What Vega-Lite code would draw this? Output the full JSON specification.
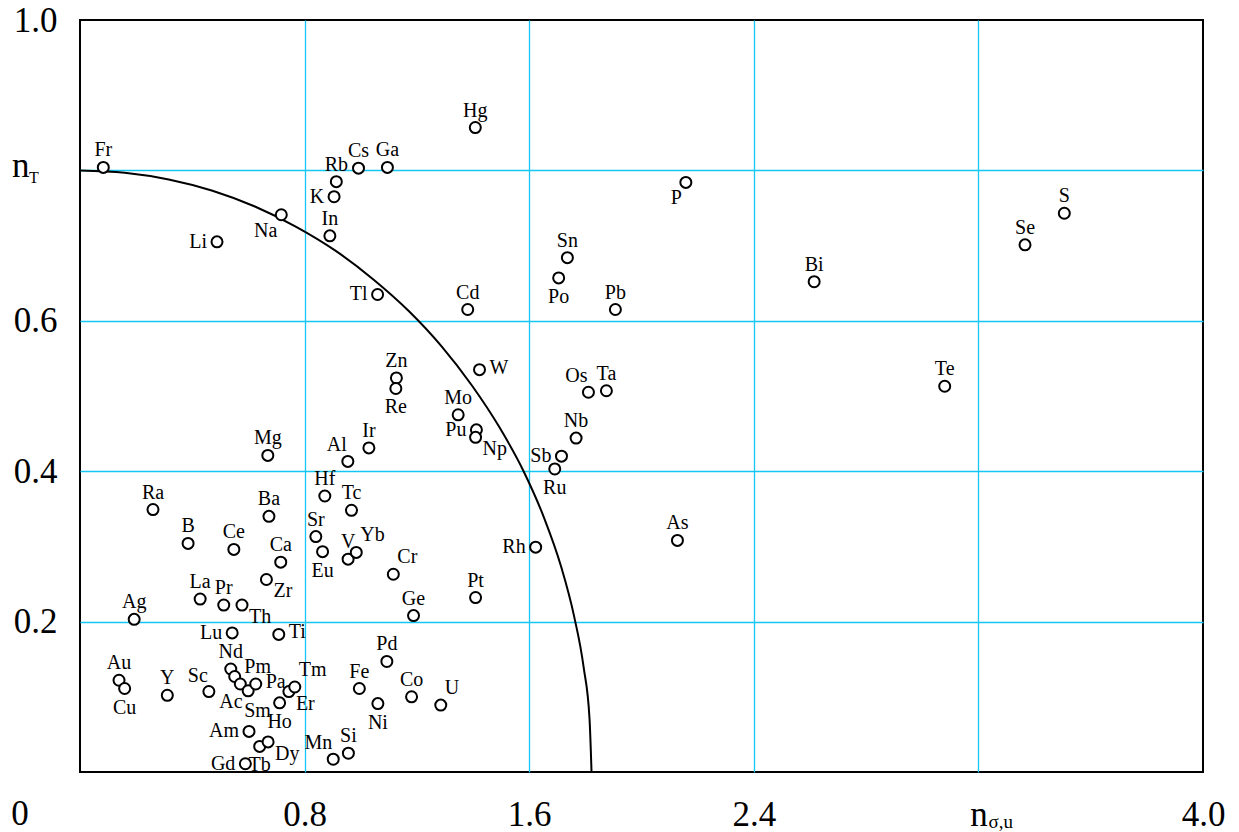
{
  "$schema": "https://vega.github.io/schema/vega-lite/v6.json",
  "width": 1123,
  "height": 752,
  "autosize": "none",
  "padding": {"left": 80, "top": 20, "right": 36, "bottom": 60},
  "background": "white",
  "config": {
    "view": {"stroke": "black", "strokeWidth": 2},
    "text": {"font": "Liberation Serif", "color": "black"},
    "axis": {
      "domain": false,
      "ticks": false,
      "title": null,
      "grid": true,
      "gridColor": "#14c6f4",
      "gridWidth": 1.3,
      "labelFont": "Liberation Serif",
      "labelFontSize": 35,
      "labelColor": "black",
      "labelOverlap": false,
      "labelFlush": false
    }
  },
  "datasets": {
    "elements": [
      {"el": "Fr", "nsu": 0.083, "nt": 0.804, "pos": "t"},
      {"el": "Li", "nsu": 0.488, "nt": 0.705, "pos": "l"},
      {"el": "Na", "nsu": 0.717, "nt": 0.741, "pos": "bl"},
      {"el": "K", "nsu": 0.905, "nt": 0.765, "pos": "l"},
      {"el": "Rb", "nsu": 0.913, "nt": 0.785, "pos": "t"},
      {"el": "Cs", "nsu": 0.992, "nt": 0.803, "pos": "t"},
      {"el": "Ga", "nsu": 1.095, "nt": 0.804, "pos": "t"},
      {"el": "In", "nsu": 0.890, "nt": 0.713, "pos": "t"},
      {"el": "Tl", "nsu": 1.060, "nt": 0.635, "pos": "l"},
      {"el": "Hg", "nsu": 1.408, "nt": 0.857, "pos": "t"},
      {"el": "Cd", "nsu": 1.381, "nt": 0.615, "pos": "t"},
      {"el": "Sn", "nsu": 1.736, "nt": 0.684, "pos": "t"},
      {"el": "Po", "nsu": 1.705, "nt": 0.657, "pos": "b"},
      {"el": "Pb", "nsu": 1.907, "nt": 0.615, "pos": "t"},
      {"el": "P", "nsu": 2.158, "nt": 0.784, "pos": "bl"},
      {"el": "Bi", "nsu": 2.615, "nt": 0.652, "pos": "t"},
      {"el": "Se", "nsu": 3.366, "nt": 0.701, "pos": "t"},
      {"el": "S", "nsu": 3.506, "nt": 0.743, "pos": "t"},
      {"el": "Te", "nsu": 3.080, "nt": 0.513, "pos": "t"},
      {"el": "Os", "nsu": 1.811, "nt": 0.505, "pos": "tl"},
      {"el": "Ta", "nsu": 1.875, "nt": 0.507, "pos": "t"},
      {"el": "Nb", "nsu": 1.767, "nt": 0.444, "pos": "t"},
      {"el": "Zn", "nsu": 1.127, "nt": 0.524, "pos": "t"},
      {"el": "Re", "nsu": 1.125, "nt": 0.510, "pos": "b"},
      {"el": "W", "nsu": 1.423, "nt": 0.535, "pos": "r"},
      {"el": "Mo", "nsu": 1.347, "nt": 0.475, "pos": "t"},
      {"el": "Pu", "nsu": 1.412, "nt": 0.455, "pos": "l"},
      {"el": "Np", "nsu": 1.409, "nt": 0.445, "pos": "br"},
      {"el": "Ir", "nsu": 1.029, "nt": 0.431, "pos": "t"},
      {"el": "Al", "nsu": 0.954, "nt": 0.413, "pos": "tl"},
      {"el": "Sb", "nsu": 1.715, "nt": 0.420, "pos": "l"},
      {"el": "Ru", "nsu": 1.691, "nt": 0.403, "pos": "b"},
      {"el": "Hf", "nsu": 0.872, "nt": 0.367, "pos": "t"},
      {"el": "Tc", "nsu": 0.967, "nt": 0.348, "pos": "t"},
      {"el": "Sr", "nsu": 0.840, "nt": 0.313, "pos": "t"},
      {"el": "Eu", "nsu": 0.864, "nt": 0.293, "pos": "b"},
      {"el": "V", "nsu": 0.955, "nt": 0.283, "pos": "t"},
      {"el": "Yb", "nsu": 0.984, "nt": 0.292, "pos": "tr"},
      {"el": "Cr", "nsu": 1.116, "nt": 0.263, "pos": "tr"},
      {"el": "Ge", "nsu": 1.188, "nt": 0.208, "pos": "t"},
      {"el": "Pt", "nsu": 1.409, "nt": 0.232, "pos": "t"},
      {"el": "Rh", "nsu": 1.623, "nt": 0.299, "pos": "l"},
      {"el": "As", "nsu": 2.128, "nt": 0.308, "pos": "t"},
      {"el": "Mg", "nsu": 0.669, "nt": 0.421, "pos": "t"},
      {"el": "Ra", "nsu": 0.260, "nt": 0.349, "pos": "t"},
      {"el": "B", "nsu": 0.385, "nt": 0.304, "pos": "t"},
      {"el": "Ce", "nsu": 0.548, "nt": 0.296, "pos": "t"},
      {"el": "Ba", "nsu": 0.673, "nt": 0.340, "pos": "t"},
      {"el": "Ca", "nsu": 0.715, "nt": 0.279, "pos": "t"},
      {"el": "Zr", "nsu": 0.664, "nt": 0.256, "pos": "br"},
      {"el": "La", "nsu": 0.428, "nt": 0.230, "pos": "t"},
      {"el": "Pr", "nsu": 0.512, "nt": 0.222, "pos": "t"},
      {"el": "Th", "nsu": 0.577, "nt": 0.222, "pos": "br"},
      {"el": "Ag", "nsu": 0.193, "nt": 0.203, "pos": "t"},
      {"el": "Lu", "nsu": 0.542, "nt": 0.185, "pos": "l"},
      {"el": "Ti", "nsu": 0.708, "nt": 0.183, "pos": "r"},
      {"el": "Au", "nsu": 0.139, "nt": 0.122, "pos": "t"},
      {"el": "Cu", "nsu": 0.159, "nt": 0.111, "pos": "b"},
      {"el": "Y", "nsu": 0.311, "nt": 0.102, "pos": "t"},
      {"el": "Sc", "nsu": 0.459, "nt": 0.107, "pos": "tl"},
      {"el": "Nd", "nsu": 0.537, "nt": 0.137, "pos": "t"},
      {"el": "Ac", "nsu": 0.551, "nt": 0.127, "pos": "bw"},
      {"el": "Pm", "nsu": 0.571, "nt": 0.117, "pos": "tr"},
      {"el": "Sm", "nsu": 0.599, "nt": 0.108, "pos": "be"},
      {"el": "Pa", "nsu": 0.626, "nt": 0.117, "pos": "r"},
      {"el": "Ho", "nsu": 0.711, "nt": 0.092, "pos": "b"},
      {"el": "Er", "nsu": 0.744, "nt": 0.107, "pos": "br"},
      {"el": "Tm", "nsu": 0.765, "nt": 0.113, "pos": "tr"},
      {"el": "Am", "nsu": 0.602, "nt": 0.054, "pos": "l"},
      {"el": "Tb", "nsu": 0.640, "nt": 0.034, "pos": "b"},
      {"el": "Dy", "nsu": 0.670, "nt": 0.040, "pos": "br"},
      {"el": "Gd", "nsu": 0.589, "nt": 0.011, "pos": "l"},
      {"el": "Pd", "nsu": 1.093, "nt": 0.147, "pos": "t"},
      {"el": "Fe", "nsu": 0.995, "nt": 0.111, "pos": "t"},
      {"el": "Ni", "nsu": 1.061, "nt": 0.091, "pos": "b"},
      {"el": "Co", "nsu": 1.181, "nt": 0.100, "pos": "t"},
      {"el": "U", "nsu": 1.285, "nt": 0.089, "pos": "tr"},
      {"el": "Mn", "nsu": 0.902, "nt": 0.017, "pos": "tl"},
      {"el": "Si", "nsu": 0.956, "nt": 0.025, "pos": "t"}
    ],
    "boundary": [
      {"nsu": 0.000, "nt": 0.800},
      {"nsu": 0.159, "nt": 0.797},
      {"nsu": 0.316, "nt": 0.788},
      {"nsu": 0.472, "nt": 0.773},
      {"nsu": 0.623, "nt": 0.752},
      {"nsu": 0.770, "nt": 0.725},
      {"nsu": 0.911, "nt": 0.693},
      {"nsu": 1.045, "nt": 0.655},
      {"nsu": 1.171, "nt": 0.613},
      {"nsu": 1.288, "nt": 0.566},
      {"nsu": 1.396, "nt": 0.514},
      {"nsu": 1.493, "nt": 0.459},
      {"nsu": 1.580, "nt": 0.400},
      {"nsu": 1.653, "nt": 0.338},
      {"nsu": 1.713, "nt": 0.274},
      {"nsu": 1.760, "nt": 0.207},
      {"nsu": 1.794, "nt": 0.139},
      {"nsu": 1.815, "nt": 0.070},
      {"nsu": 1.822, "nt": 0.000}
    ],
    "axisNames": [
      {"txt": "n", "nsu": 0, "nt": 0.8, "role": "ymain"},
      {"txt": "0", "nsu": 0, "nt": 0, "role": "origin"}
    ],
    "axisSubs": [
      {"txt": "T", "nsu": 0, "nt": 0.8, "role": "ysub"},
      {"txt": "σ,u", "nsu": 3.2, "nt": 0, "role": "xsub"}
    ]
  },
  "encoding": {
    "x": {
      "field": "nsu",
      "type": "quantitative",
      "scale": {"domain": [0, 4], "nice": false, "zero": false},
      "axis": {
        "values": [0, 0.8, 1.6, 2.4, 3.2, 4],
        "labelExpr": "datum.value == 0 ? '' : datum.value == 3.2 ? 'n' : format(datum.value, '.1f')",
        "labelBaseline": "alphabetic",
        "labelPadding": 53,
        "gridOpacity": {"condition": {"test": "datum.value == 0 || datum.value == 4", "value": 0}, "value": 1}
      }
    },
    "y": {
      "field": "nt",
      "type": "quantitative",
      "scale": {"domain": [0, 1], "nice": false, "zero": false},
      "axis": {
        "values": [0.2, 0.4, 0.6, 0.8, 1.0],
        "labelExpr": "datum.value == 0.8 ? '' : format(datum.value, '.1f')",
        "labelPadding": 23,
        "gridOpacity": {"condition": {"test": "datum.value == 1", "value": 0}, "value": 1}
      }
    }
  },
  "layer": [
    {
      "data": {"name": "boundary"},
      "mark": {"type": "line", "color": "black", "strokeWidth": 2, "interpolate": "monotone"}
    },
    {
      "data": {"name": "elements"},
      "mark": {"type": "circle", "size": 121, "fill": "white", "stroke": "black", "strokeWidth": 2, "opacity": 1}
    },
    {
      "data": {"name": "elements"},
      "transform": [{"filter": "datum.pos == 't'"}],
      "mark": {"type": "text", "fontSize": 20, "align": "center", "baseline": "alphabetic", "dy": -11},
      "encoding": {"text": {"field": "el"}}
    },
    {
      "data": {"name": "elements"},
      "transform": [{"filter": "datum.pos == 'b'"}],
      "mark": {"type": "text", "fontSize": 20, "align": "center", "baseline": "alphabetic", "dy": 25},
      "encoding": {"text": {"field": "el"}}
    },
    {
      "data": {"name": "elements"},
      "transform": [{"filter": "datum.pos == 'bw'"}],
      "mark": {"type": "text", "fontSize": 20, "align": "right", "baseline": "alphabetic", "dx": 8, "dy": 32},
      "encoding": {"text": {"field": "el"}}
    },
    {
      "data": {"name": "elements"},
      "transform": [{"filter": "datum.pos == 'be'"}],
      "mark": {"type": "text", "fontSize": 20, "align": "left", "baseline": "alphabetic", "dx": -4, "dy": 26},
      "encoding": {"text": {"field": "el"}}
    },
    {
      "data": {"name": "elements"},
      "transform": [{"filter": "datum.pos == 'l'"}],
      "mark": {"type": "text", "fontSize": 20, "align": "right", "baseline": "alphabetic", "dx": -10, "dy": 6},
      "encoding": {"text": {"field": "el"}}
    },
    {
      "data": {"name": "elements"},
      "transform": [{"filter": "datum.pos == 'r'"}],
      "mark": {"type": "text", "fontSize": 20, "align": "left", "baseline": "alphabetic", "dx": 10, "dy": 4},
      "encoding": {"text": {"field": "el"}}
    },
    {
      "data": {"name": "elements"},
      "transform": [{"filter": "datum.pos == 'tl'"}],
      "mark": {"type": "text", "fontSize": 20, "align": "right", "baseline": "alphabetic", "dx": -1, "dy": -10},
      "encoding": {"text": {"field": "el"}}
    },
    {
      "data": {"name": "elements"},
      "transform": [{"filter": "datum.pos == 'tr'"}],
      "mark": {"type": "text", "fontSize": 20, "align": "left", "baseline": "alphabetic", "dx": 4, "dy": -11},
      "encoding": {"text": {"field": "el"}}
    },
    {
      "data": {"name": "elements"},
      "transform": [{"filter": "datum.pos == 'bl'"}],
      "mark": {"type": "text", "fontSize": 20, "align": "right", "baseline": "alphabetic", "dx": -4, "dy": 22},
      "encoding": {"text": {"field": "el"}}
    },
    {
      "data": {"name": "elements"},
      "transform": [{"filter": "datum.pos == 'br'"}],
      "mark": {"type": "text", "fontSize": 20, "align": "left", "baseline": "alphabetic", "dx": 7, "dy": 18},
      "encoding": {"text": {"field": "el"}}
    },
    {
      "data": {"name": "axisNames"},
      "transform": [{"filter": "datum.role == 'ymain'"}],
      "mark": {"type": "text", "fontSize": 35, "align": "left", "baseline": "alphabetic", "dx": -68, "dy": 7},
      "encoding": {"text": {"field": "txt"}}
    },
    {
      "data": {"name": "axisNames"},
      "transform": [{"filter": "datum.role == 'origin'"}],
      "mark": {"type": "text", "fontSize": 35, "align": "center", "baseline": "alphabetic", "dx": -60, "dy": 53},
      "encoding": {"text": {"field": "txt"}}
    },
    {
      "data": {"name": "axisSubs"},
      "transform": [{"filter": "datum.role == 'ysub'"}],
      "mark": {"type": "text", "fontSize": 16, "align": "left", "baseline": "alphabetic", "dx": -51, "dy": 13},
      "encoding": {"text": {"field": "txt"}}
    },
    {
      "data": {"name": "axisSubs"},
      "transform": [{"filter": "datum.role == 'xsub'"}],
      "mark": {"type": "text", "fontSize": 19, "align": "left", "baseline": "alphabetic", "dx": 10, "dy": 56},
      "encoding": {"text": {"field": "txt"}}
    }
  ]
}
